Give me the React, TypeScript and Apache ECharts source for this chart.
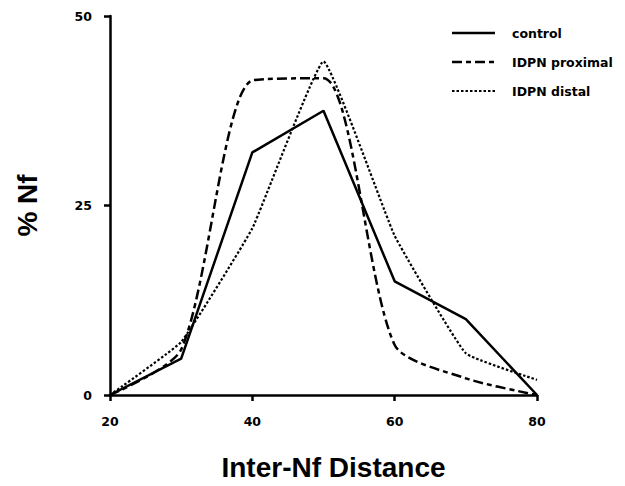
import React, { useEffect, useRef } from "react";
import * as echarts from "echarts";

const xValues = [20, 30, 40, 50, 60, 70, 80];
const control = [0, 4.8, 32, 37.5, 15, 10, 0];
const proximal = [0, 6, 41.5, 41.8, 6.6, 2.2, 0];
const distal = [0, 7, 22, 44, 21, 5.5, 2];
const seriesNames = ["control", "IDPN proximal", "IDPN distal"];
const xTicks = [20, 40, 60, 80];
const yTicks = [0, 25, 50];

const FONT = "'Liberation Sans', Arial, sans-serif";
const SMALL_FONT = "'DejaVu Sans', 'Liberation Sans', sans-serif";
const DASHES: (number[] | null)[] = [null, [10, 4, 5, 4], [2.5, 2]];
const WIDTHS = [2.5, 2.5, 2.2];

export default function App() {
  const ref = useRef<HTMLDivElement>(null);
  useEffect(() => {
    document.body.style.margin = "0";
    if (!ref.current) return;
    const chart = echarts.init(ref.current, null, { renderer: "svg" });
    const pair = (ys: number[]) => xValues.map((x, i) => [x, ys[i]]);
    const legendGraphics: any[] = [];
    seriesNames.forEach((name, i) => {
      const y = 33 + i * 29;
      legendGraphics.push({
        type: "line",
        shape: { x1: 452, y1: y, x2: 495, y2: y },
        style: { stroke: "#000", lineWidth: WIDTHS[i], lineDash: DASHES[i] || undefined },
      });
      legendGraphics.push({
        type: "text",
        x: 512,
        y,
        style: {
          text: name,
          fontFamily: SMALL_FONT,
          fontWeight: "bold",
          fontSize: 12.5,
          fill: "#000",
          verticalAlign: "middle",
          align: "left",
        },
      });
    });
    const lineType = (i: number) => (DASHES[i] ? DASHES[i] : "solid");
    chart.setOption({
      animation: false,
      backgroundColor: "#ffffff",
      grid: { left: 110, right: 88, top: 16, bottom: 89 },
      graphic: legendGraphics,
      xAxis: {
        type: "value",
        min: xTicks[0],
        max: xTicks[xTicks.length - 1],
        interval: 20,
        name: "Inter-Nf Distance",
        nameLocation: "middle",
        nameGap: 58,
        nameTextStyle: {
          fontFamily: FONT,
          fontWeight: "bold",
          fontSize: 28,
          color: "#000",
          padding: [0, 0, 0, 20],
        },
        axisLine: { lineStyle: { color: "#000", width: 2.5 } },
        axisTick: { length: 6, lineStyle: { color: "#000", width: 2.5 } },
        axisLabel: { fontFamily: SMALL_FONT, fontWeight: "bold", fontSize: 12.5, color: "#000", margin: 20 },
        splitLine: { show: false },
      },
      yAxis: {
        type: "value",
        min: yTicks[0],
        max: yTicks[yTicks.length - 1],
        interval: 25,
        name: "% Nf",
        nameLocation: "middle",
        nameGap: 69,
        nameRotate: 90,
        nameTextStyle: { fontFamily: FONT, fontWeight: "bold", fontSize: 28, color: "#000" },
        axisLine: { show: true, lineStyle: { color: "#000", width: 2.5 } },
        axisTick: { show: true, length: 6, lineStyle: { color: "#000", width: 2.5 } },
        axisLabel: { fontFamily: SMALL_FONT, fontWeight: "bold", fontSize: 12.5, color: "#000", margin: 18 },
        splitLine: { show: false },
      },
      series: [
        {
          name: seriesNames[0],
          type: "line",
          data: pair(control),
          symbol: "none",
          lineStyle: { color: "#000", width: WIDTHS[0], type: lineType(0) },
        },
        {
          name: seriesNames[1],
          type: "line",
          data: pair(proximal),
          symbol: "none",
          smooth: 0.25,
          lineStyle: { color: "#000", width: WIDTHS[1], type: lineType(1) },
        },
        {
          name: seriesNames[2],
          type: "line",
          data: pair(distal),
          symbol: "none",
          smooth: 0.1,
          lineStyle: { color: "#000", width: WIDTHS[2], type: lineType(2) },
        },
      ],
    });
    return () => chart.dispose();
  }, []);
  return <div ref={ref} style={{ width: 625, height: 486 }} />;
}
